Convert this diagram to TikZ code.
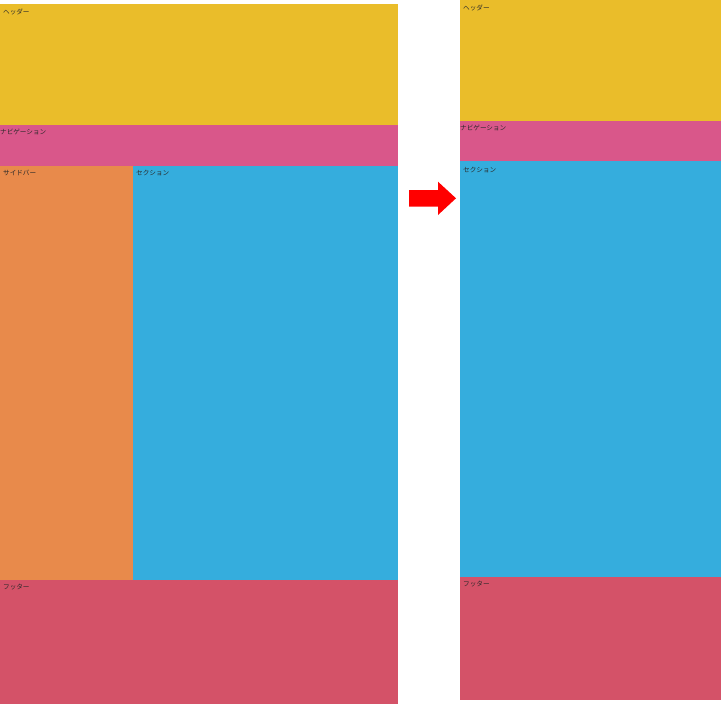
\documentclass[tikz,border=0pt]{standalone}
\usepackage{fontspec}
\newfontfamily\jpfont{Noto Sans CJK JP}
\definecolor{hdr}{HTML}{EABD2A}
\definecolor{nav}{HTML}{D9578A}
\definecolor{side}{HTML}{E88A4B}
\definecolor{sec}{HTML}{35ADDD}
\definecolor{foot}{HTML}{D45268}
\definecolor{txt}{HTML}{2A2A2A}
\tikzset{
  region/.style={fill=#1, draw=none},
  lbl/.style={anchor=west, inner sep=0pt, font=\jpfont\fontsize{6.6}{7}\selectfont, text=txt},
}
\begin{document}
\begin{tikzpicture}[x=1pt,y=-1pt]
\useasboundingbox (0,0) rectangle (721,704);
% left panel
\fill[region=hdr] (0,4) rectangle (398,125);
\fill[region=nav] (0,125) rectangle (398,165.5);
\fill[region=side] (0,165.5) rectangle (133,580);
\fill[region=sec] (133,165.5) rectangle (398,580);
\fill[region=foot] (0,580) rectangle (398,704);
\node[lbl] (l1) at (3,12.3) {ヘッダー};
\node[lbl] (l2) at (0,131.7) {ナビゲーション};
\node[lbl] (l3) at (3,173.3) {サイドバー};
\node[lbl] (l4) at (136,173.5) {セクション};
\node[lbl] (l5) at (3,587.5) {フッター};
% right panel
\fill[region=hdr] (460,0) rectangle (721,121);
\fill[region=nav] (460,121) rectangle (721,161.3);
\fill[region=sec] (460,161.3) rectangle (721,576.5);
\fill[region=foot] (460,576.5) rectangle (721,700);
\node[lbl] (r1) at (463,8.3) {ヘッダー};
\node[lbl] (r2) at (460,127.7) {ナビゲーション};
\node[lbl] (r3) at (463,170) {セクション};
\node[lbl] (r4) at (463,584) {フッター};
% arrow
\fill[red] (409,190) -- (438,190) -- (438,181.7) -- (456,198.3) -- (438,215) -- (438,206.7) -- (409,206.7) -- cycle;
\end{tikzpicture}
\end{document}
